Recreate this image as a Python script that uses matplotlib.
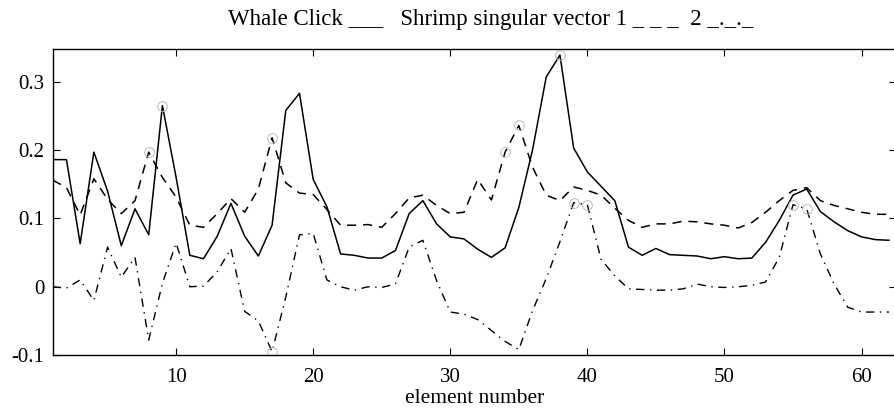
import matplotlib
matplotlib.use("Agg")
import matplotlib.pyplot as plt
import numpy as np

plt.rcParams['font.family'] = ['Liberation Serif', 'DejaVu Serif']

element = np.arange(1, 63)

whale_click = [0.186, 0.186, 0.063, 0.197, 0.140, 0.060, 0.114, 0.076, 0.265, 0.160,
               0.046, 0.041, 0.074, 0.122, 0.074, 0.045, 0.090, 0.258, 0.283, 0.157,
               0.117, 0.048, 0.046, 0.042, 0.042, 0.053, 0.107, 0.126, 0.092, 0.073,
               0.070, 0.055, 0.043, 0.057, 0.116, 0.200, 0.307, 0.339, 0.203, 0.168,
               0.147, 0.126, 0.058, 0.046, 0.056, 0.047, 0.046, 0.045, 0.041, 0.044,
               0.041, 0.042, 0.065, 0.097, 0.134, 0.143, 0.110, 0.095, 0.082, 0.073,
               0.069, 0.068]

vector_1 = [0.156, 0.145, 0.105, 0.158, 0.128, 0.107, 0.126, 0.197, 0.160, 0.131,
            0.090, 0.087, 0.107, 0.129, 0.109, 0.143, 0.218, 0.152, 0.137, 0.135,
            0.113, 0.090, 0.090, 0.091, 0.087, 0.107, 0.130, 0.134, 0.119, 0.107,
            0.109, 0.157, 0.127, 0.197, 0.236, 0.175, 0.134, 0.126, 0.146, 0.141,
            0.134, 0.115, 0.097, 0.087, 0.092, 0.092, 0.096, 0.095, 0.092, 0.090,
            0.086, 0.094, 0.109, 0.126, 0.141, 0.145, 0.126, 0.119, 0.114, 0.109,
            0.106, 0.106]

vector_2 = [0.000, -0.002, 0.010, -0.020, 0.058, 0.014, 0.043, -0.078, 0.005, 0.064,
            0.000, 0.001, 0.022, 0.056, -0.036, -0.050, -0.095, -0.015, 0.076, 0.078,
            0.010, 0.000, -0.005, 0.000, -0.001, 0.004, 0.058, 0.068, 0.009, -0.037,
            -0.040, -0.048, -0.064, -0.080, -0.092, -0.035, 0.012, 0.066, 0.123, 0.120,
            0.040, 0.016, -0.003, -0.004, -0.005, -0.005, -0.003, 0.004, 0.000, -0.001,
            0.000, 0.002, 0.007, 0.043, 0.120, 0.114, 0.048, 0.004, -0.030, -0.037,
            -0.037, -0.037]

# faint circles marking the peaks (element numbers)
whale_marks = [9, 38]
vector_1_marks = [8, 17, 34, 35]
vector_2_marks = [17, 39, 40, 55, 56]

fig = plt.figure(figsize=(8.94, 4.11), dpi=100)
ax = fig.add_axes([0.059, 0.136, 0.943, 0.745])

ax.plot(element, whale_click, color='black', lw=1.1, ls='-')
ax.plot(element, vector_1, color='black', lw=1.1, ls=(0, (6, 4.5)))
ax.plot(element, vector_2, color='black', lw=1.0, ls=(0, (6, 4, 1, 4)))

for marks, series in [(whale_marks, whale_click), (vector_1_marks, vector_1), (vector_2_marks, vector_2)]:
    idx = np.array(marks) - 1
    ax.plot(element[idx], np.array(series)[idx], ls='none', marker='o', ms=7,
            mfc='none', mec='#bbbbbb', mew=0.7)

ax.set_xlim(1, 62.5)
ax.set_ylim(-0.1, 0.348)
ax.set_xticks([10, 20, 30, 40, 50, 60])
ax.set_yticks([-0.1, 0, 0.1, 0.2, 0.3])
ax.set_yticklabels(['-0.1', '0', '0.1', '0.2', '0.3'])
ax.tick_params(direction='in', top=True, right=True, length=5, width=0.8,
               labelsize=15, pad=6)
ax.tick_params(axis='x', pad=9)
for s in ax.spines.values():
    s.set_linewidth(1.0)

ax.set_xlabel('element number', fontsize=15.5, labelpad=2)
ax.set_title('Whale Click ___   Shrimp singular vector 1 _ _ _  2 _._._',
             fontsize=16.5, pad=17, x=0.52)

fig.savefig('out.png', dpi=100)
